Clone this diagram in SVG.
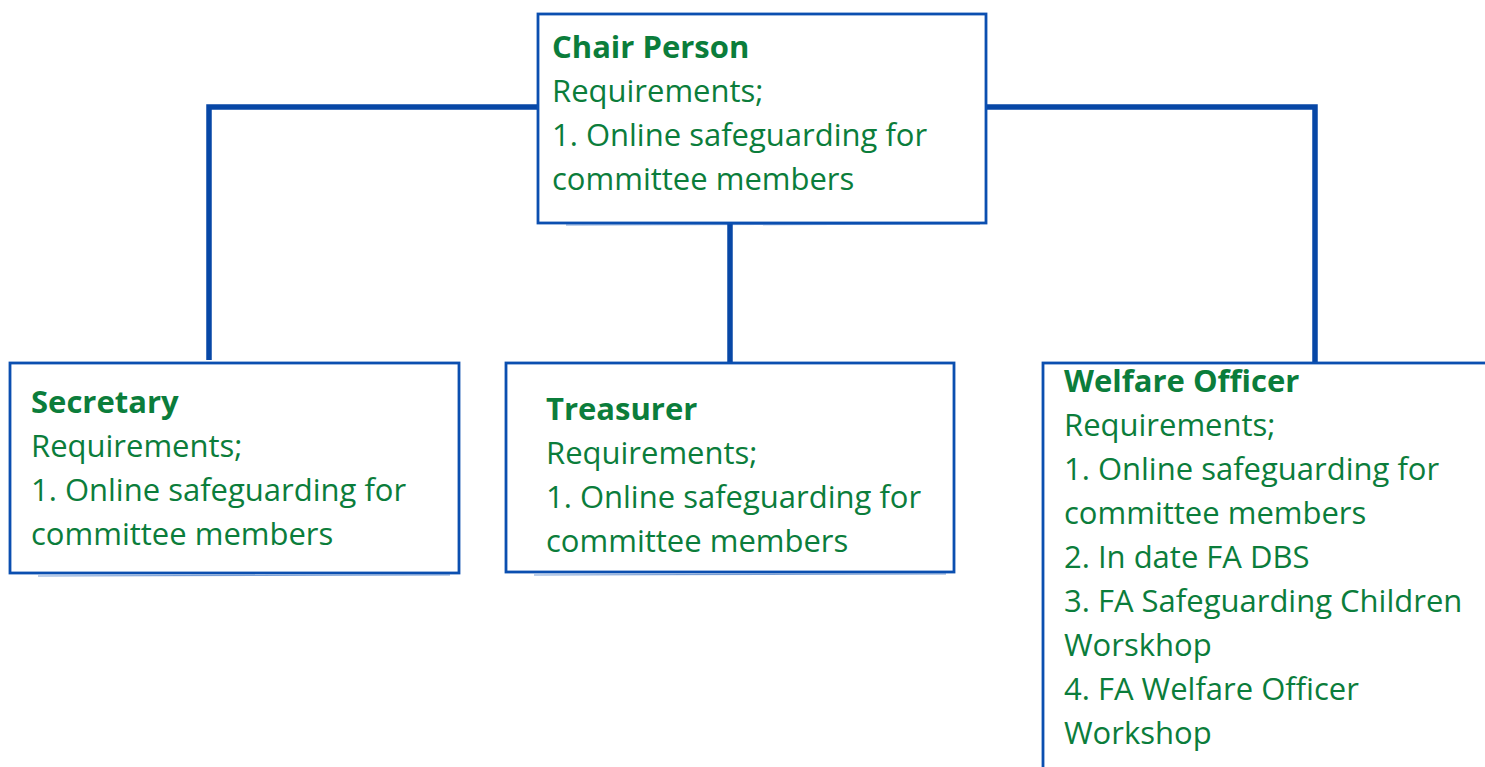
<svg xmlns="http://www.w3.org/2000/svg" width="1485" height="767" viewBox="0 0 1485 767">
<style>
.box{fill:#ffffff;stroke:#0b4fb0;stroke-width:2.8}
.sk{fill:none;stroke:#0b4fb0;stroke-width:1.2;opacity:0.55}
.conn{fill:none;stroke:#0747a6;stroke-width:5.5;stroke-linecap:butt;stroke-linejoin:miter}
text{font-family:"Open Sans","Noto Sans","Liberation Sans",sans-serif;font-size:31px;fill:#0b7d3b}
.t{font-weight:700}
</style>
<rect width="1485" height="767" fill="#ffffff"/>
<g id="connectors">
<polyline class="conn" points="538,107 209,107 209,360"/>
<polyline class="conn" points="986,107 1315,107 1315,362"/>
<line class="conn" x1="730" y1="223" x2="730" y2="362"/>
</g>
<g id="chair">
<rect class="box" x="538" y="14" width="448" height="209"/>
<path class="sk" d="M566,225 L980,224"/>
<text x="552" y="58"><tspan class="t">Chair Person</tspan><tspan x="552" dy="44">Requirements;</tspan><tspan x="552" dy="44">1. Online safeguarding for</tspan><tspan x="552" dy="44">committee members</tspan></text>
</g>
<g id="secretary">
<rect class="box" x="10" y="363" width="449" height="210"/>
<path class="sk" d="M38,576 L450,575"/>
<text x="31" y="413"><tspan class="t">Secretary</tspan><tspan x="31" dy="44">Requirements;</tspan><tspan x="31" dy="44">1. Online safeguarding for</tspan><tspan x="31" dy="44">committee members</tspan></text>
</g>
<g id="treasurer">
<rect class="box" x="506" y="363" width="448" height="209"/>
<path class="sk" d="M534,575 L946,574"/>
<text x="546" y="420"><tspan class="t">Treasurer</tspan><tspan x="546" dy="44">Requirements;</tspan><tspan x="546" dy="44">1. Online safeguarding for</tspan><tspan x="546" dy="44">committee members</tspan></text>
</g>
<g id="welfare">
<rect class="box" x="1043" y="363" width="460" height="420"/>
<text x="1064" y="392"><tspan class="t">Welfare Officer</tspan><tspan x="1064" dy="44">Requirements;</tspan><tspan x="1064" dy="44">1. Online safeguarding for</tspan><tspan x="1064" dy="44">committee members</tspan><tspan x="1064" dy="44">2. In date FA DBS</tspan><tspan x="1064" dy="44">3. FA Safeguarding Children</tspan><tspan x="1064" dy="44">Worskhop</tspan><tspan x="1064" dy="44">4. FA Welfare Officer</tspan><tspan x="1064" dy="44">Workshop</tspan></text>
</g>
</svg>
